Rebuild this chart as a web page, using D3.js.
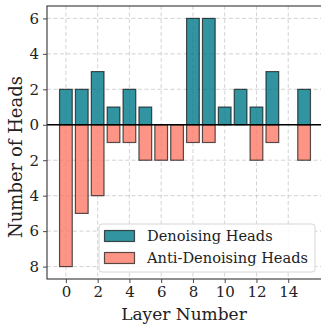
<!DOCTYPE html>
<html>
<head>
<meta charset="utf-8">
<script src="https://cdn.jsdelivr.net/npm/d3@7"></script>
<style>
  html, body { margin: 0; padding: 0; background: #fff; }
  svg { display: block; }
  text { font-family: "DejaVu Serif", serif; fill: #222; }
</style>
</head>
<body>
<svg id="chart" width="321" height="324"></svg>
<script>
// Head counts per transformer layer
const layers = d3.range(0, 16);
const denoising = [2, 2, 3, 1, 2, 1, 0, 0, 6, 6, 1, 2, 1, 3, 0, 2];
const antiDenoising = [8, 5, 4, 1, 1, 2, 2, 2, 1, 1, 0, 0, 2, 1, 0, 2];
const xTicks = [0, 2, 4, 6, 8, 10, 12, 14];
const yTicks = [-8, -6, -4, -2, 0, 2, 4, 6];
const seriesNames = ["Denoising Heads", "Anti-Denoising Heads"];
const seriesColors = ["#00798a", "#fc7a68"];

const svg = d3.select("#chart");
const margin = { left: 47, top: 6, right: 323, bottom: 279 };
const barWidth = 0.8;

const x = d3.scaleLinear().domain([-1.19, 16.19]).range([margin.left, margin.right]);
const y = d3.scaleLinear().domain([-8.7, 6.7]).range([margin.bottom, margin.top]);

// Grid
const grid = svg.append("g");
grid.selectAll(".gx").data(xTicks).join("line")
  .attr("x1", d => x(d)).attr("x2", d => x(d))
  .attr("y1", margin.top).attr("y2", margin.bottom)
  .attr("stroke", "#c8c8c8").attr("stroke-width", 0.8).attr("stroke-dasharray", "4,2.5");
grid.selectAll(".gy").data(yTicks).join("line")
  .attr("x1", margin.left).attr("x2", margin.right)
  .attr("y1", d => y(d)).attr("y2", d => y(d))
  .attr("stroke", "#c8c8c8").attr("stroke-width", 0.8).attr("stroke-dasharray", "4,2.5");

// Bars
const bars = svg.append("g");
function drawSeries(values, sign, color) {
  bars.selectAll(null).data(layers.filter(l => values[l] > 0)).join("rect")
    .attr("x", l => x(l - barWidth / 2))
    .attr("width", l => x(l + barWidth / 2) - x(l - barWidth / 2))
    .attr("y", l => sign > 0 ? y(values[l]) : y(0))
    .attr("height", l => Math.abs(y(values[l] * sign) - y(0)))
    .attr("fill", color).attr("fill-opacity", 0.8)
    .attr("stroke", "#000").attr("stroke-opacity", 0.65).attr("stroke-width", 1.2);
}
drawSeries(denoising, 1, seriesColors[0]);
drawSeries(antiDenoising, -1, seriesColors[1]);

// Zero line
svg.append("line")
  .attr("x1", margin.left).attr("x2", margin.right)
  .attr("y1", y(0)).attr("y2", y(0))
  .attr("stroke", "#000").attr("stroke-width", 1.6);

// Axes
const xAxis = d3.axisBottom(x).tickValues(xTicks).tickSize(4).tickPadding(3);
const yAxis = d3.axisLeft(y).tickValues(yTicks).tickSize(4).tickPadding(4)
  .tickFormat(d => Math.abs(d));

const gx = svg.append("g").attr("transform", `translate(0,${margin.bottom})`).call(xAxis);
const gy = svg.append("g").attr("transform", `translate(${margin.left},0)`).call(yAxis);
[gx, gy].forEach(g => {
  g.select(".domain").remove();
  g.selectAll("line").attr("stroke", "#333").attr("stroke-width", 0.9);
  g.selectAll("text").attr("font-size", 15).attr("fill", "#222")
    .style("font-family", "'DejaVu Serif', serif");
});

// Frame
svg.append("rect")
  .attr("x", margin.left).attr("y", margin.top)
  .attr("width", margin.right - margin.left).attr("height", margin.bottom - margin.top)
  .attr("fill", "none").attr("stroke", "#333").attr("stroke-width", 1.1);

// Axis labels
svg.append("text")
  .attr("x", x(7.5) - 1).attr("y", 320)
  .attr("text-anchor", "middle").attr("font-size", 17)
  .text("Layer Number");
svg.append("text")
  .attr("transform", "translate(22,157) rotate(-90)")
  .attr("text-anchor", "middle").attr("font-size", 18)
  .text("Number of Heads");

// Legend
const lg = svg.append("g").attr("transform", "translate(99,224)");
lg.append("rect").attr("width", 216).attr("height", 48).attr("rx", 3)
  .attr("fill", "#fff").attr("fill-opacity", 0.85)
  .attr("stroke", "#d6d6d6").attr("stroke-width", 1);
seriesNames.forEach((name, i) => {
  const row = lg.append("g").attr("transform", `translate(0,${6 + i * 22})`);
  row.append("rect").attr("x", 5.5).attr("y", 0.5).attr("width", 30).attr("height", 11)
    .attr("fill", seriesColors[i]).attr("fill-opacity", 0.8)
    .attr("stroke", "#000").attr("stroke-opacity", 0.65).attr("stroke-width", 1.2);
  row.append("text").attr("x", 48).attr("y", 11).attr("font-size", 14.6).text(name);
});
</script>
</body>
</html>
